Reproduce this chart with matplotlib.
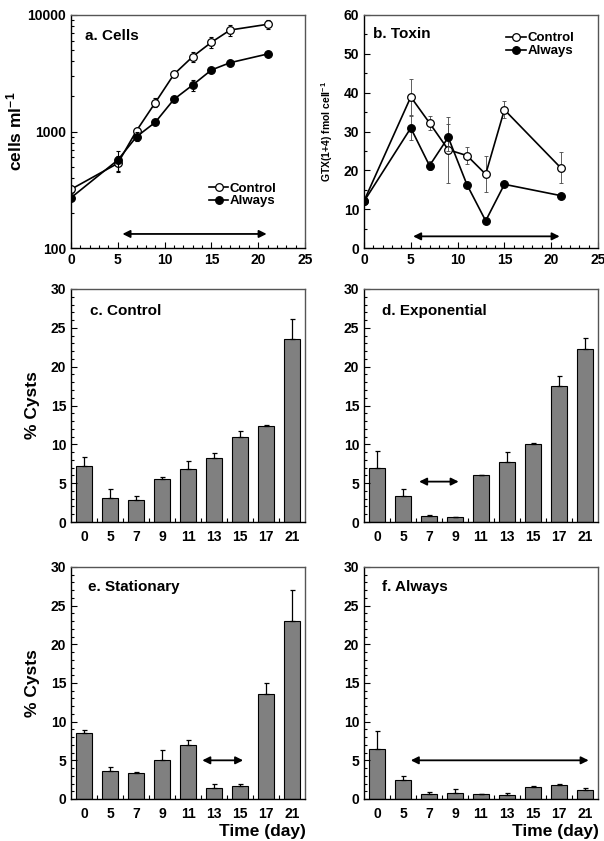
import numpy as np
import matplotlib
matplotlib.use("Agg")
import matplotlib.pyplot as plt
from matplotlib.ticker import MultipleLocator, FixedLocator, NullFormatter, LogLocator

plt.rcParams['font.family'] = ['Liberation Sans', 'DejaVu Sans']
plt.rcParams['font.weight'] = 'bold'
plt.rcParams['mathtext.fontset'] = 'custom'
plt.rcParams['mathtext.rm'] = 'Liberation Sans:bold'
plt.rcParams['mathtext.default'] = 'rm'

# panel a: cells ml-1
days = [0, 5, 7, 9, 11, 13, 15, 17, 21]
cells_control = [319, 533, 1016, 1767, 3097, 4390, 5830, 7430, 8320]
cells_control_err = [20, 80, 40, 160, 120, 450, 650, 800, 800]
cells_always = [270, 569, 902, 1199, 1889, 2506, 3373, 3896, 4627]
cells_always_err = [15, 110, 80, 50, 60, 280, 80, 80, 80]

# panel b: toxin (no sample on day 17)
tox_days = [0, 5, 7, 9, 11, 13, 15, 21]
tox_control = [12.1, 38.9, 32.2, 25.3, 23.8, 19.0, 35.6, 20.7]
tox_control_err = [0.3, 4.6, 1.7, 8.5, 2.1, 4.6, 2.2, 3.9]
tox_always = [12.0, 30.9, 21.2, 28.5, 16.3, 7.0, 16.4, 13.5]
tox_always_err = [0.3, 3.0, 1.2, 3.5, 0.3, 0.3, 0.3, 0.3]

# panels c-f: % cysts
cyst_labels = ['0', '5', '7', '9', '11', '13', '15', '17', '21']
cyst_control = [7.2, 3.1, 2.8, 5.5, 6.8, 8.2, 10.9, 12.3, 23.6]
cyst_control_err = [1.2, 1.1, 0.5, 0.3, 1.1, 0.7, 0.8, 0.2, 2.5]
cyst_expo = [7.0, 3.3, 0.8, 0.6, 6.0, 7.7, 10.0, 17.5, 22.3]
cyst_expo_err = [2.1, 0.95, 0.05, 0.1, 0.05, 1.25, 0.15, 1.3, 1.4]
cyst_stat = [8.5, 3.6, 3.4, 5.0, 7.0, 1.4, 1.7, 13.6, 23.0]
cyst_stat_err = [0.4, 0.6, 0.15, 1.35, 0.6, 0.5, 0.25, 1.4, 4.0]
cyst_always = [6.5, 2.5, 0.65, 0.8, 0.65, 0.55, 1.55, 1.85, 1.15]
cyst_always_err = [2.25, 0.45, 0.2, 0.5, 0.05, 0.18, 0.12, 0.08, 0.27]

W, H = 604, 841
fig = plt.figure(figsize=(W / 100, H / 100), dpi=100)


def add_ax(x0, x1, ytop, ybot):
    return fig.add_axes([x0 / W, (H - ybot) / H, (x1 - x0) / W, (ybot - ytop) / H])


def style(ax):
    for s in ['left', 'bottom']:
        ax.spines[s].set_color('k')
        ax.spines[s].set_linewidth(1.0)
    for s in ['top', 'right']:
        ax.spines[s].set_color('#555555')
        ax.spines[s].set_linewidth(1.0)
    ax.tick_params(which='both', direction='in', top=False, right=False, labelsize=10, width=0.8)
    ax.tick_params(which='major', length=4)
    ax.tick_params(which='minor', length=2)
    for lab in ax.get_xticklabels() + ax.get_yticklabels():
        lab.set_fontweight('bold')


def arrow(ax, x1, x2, y):
    ax.annotate('', xy=(x2, y), xytext=(x1, y),
                arrowprops=dict(arrowstyle='<|-|>', color='k', lw=1.3, mutation_scale=11,
                                shrinkA=0, shrinkB=0))


def series(ax, x, y, err, filled, label, ecolor='k', elw=0.8):
    ax.errorbar(x, y, yerr=err, fmt='none', ecolor=ecolor, capsize=1.5, elinewidth=elw, capthick=elw)
    ax.plot(x, y, color='k', lw=1.2, marker='o', ms=5.5, mfc='k' if filled else 'white',
            mec='k', mew=0.9, label=label)


# ---- a. Cells
ax = add_ax(71, 305, 15, 248)
series(ax, days, cells_control, cells_control_err, False, 'Control')
series(ax, days, cells_always, cells_always_err, True, 'Always')
ax.set_yscale('log')
ax.set_ylim(100, 10000)
ax.set_xlim(0, 25)
ax.set_yticks([100, 1000, 10000])
ax.set_yticklabels(['100', '1000', '10000'])
ax.yaxis.set_minor_locator(LogLocator(base=10, subs=np.arange(2, 10)))
ax.yaxis.set_minor_formatter(NullFormatter())
ax.xaxis.set_major_locator(MultipleLocator(5))
ax.xaxis.set_minor_locator(MultipleLocator(1))
ax.set_ylabel('cells ml$^{-1}$', fontsize=12.5, fontweight='bold', labelpad=2)
ax.text(0.06, 0.91, 'a. Cells', transform=ax.transAxes, fontsize=11, fontweight='bold', va='center')
arrow(ax, 5.5, 20.9, 132)
ax.legend(loc='upper left', bbox_to_anchor=(0.56, 0.31), frameon=False, handlelength=1.5,
          handletextpad=0.1, labelspacing=0.05, borderpad=0, prop={'weight': 'bold', 'size': 9.5})
style(ax)

# ---- b. Toxin
ax = add_ax(364, 598, 15, 248)
series(ax, tox_days, tox_control, tox_control_err, False, 'Control', ecolor='#444444', elw=0.6)
series(ax, tox_days, tox_always, tox_always_err, True, 'Always', ecolor='#444444', elw=0.6)
ax.set_ylim(0, 60)
ax.set_xlim(0, 25)
ax.yaxis.set_major_locator(MultipleLocator(10))
ax.yaxis.set_minor_locator(MultipleLocator(5))
ax.xaxis.set_major_locator(MultipleLocator(5))
ax.xaxis.set_minor_locator(MultipleLocator(1))
ax.set_ylabel('GTX(1+4) fmol cell$^{-1}$', fontsize=7.5, fontweight='bold', labelpad=6)
ax.text(0.037, 0.918, 'b. Toxin', transform=ax.transAxes, fontsize=11, fontweight='bold', va='center')
arrow(ax, 5.25, 20.9, 3)
ax.legend(loc='upper left', bbox_to_anchor=(0.58, 0.955), frameon=False, handlelength=1.5,
          handletextpad=0.1, labelspacing=0.05, borderpad=0, prop={'weight': 'bold', 'size': 9.5})
style(ax)


def bar_panel(ax, vals, errs, title, tx, ty, arr=None, ylabel=True, xlabel=False):
    x = np.arange(len(cyst_labels))
    ax.bar(x, vals, width=0.6, color='#808080', edgecolor='k', linewidth=0.8,
           yerr=[np.zeros(len(errs)), errs],
           error_kw=dict(capsize=1.8, elinewidth=0.9, capthick=0.9, ecolor='k'))
    ax.set_xlim(-0.5, 8.5)
    ax.set_ylim(0, 30)
    ax.set_xticks(x)
    ax.set_xticklabels(cyst_labels)
    ax.xaxis.set_minor_locator(FixedLocator(np.arange(0.5, 8, 1)))
    ax.yaxis.set_major_locator(MultipleLocator(5))
    ax.yaxis.set_minor_locator(MultipleLocator(1))
    style(ax)
    ax.tick_params(axis='x', which='major', length=0, pad=6)
    ax.tick_params(axis='x', which='minor', length=3)
    if ylabel:
        ax.set_ylabel('% Cysts', fontsize=12.5, fontweight='bold', labelpad=8)
    ax.text(tx, ty, title, transform=ax.transAxes, fontsize=11, fontweight='bold', va='center')
    if arr is not None:
        arrow(ax, *arr)
    if xlabel:
        ax.text(1.005, -0.142, 'Time (day)', transform=ax.transAxes, fontsize=12.5,
                fontweight='bold', ha='right', va='center')


ax = add_ax(71, 305, 289, 522)
bar_panel(ax, cyst_control, cyst_control_err, 'c. Control', 0.08, 0.907)
ax = add_ax(364, 598, 289, 522)
bar_panel(ax, cyst_expo, cyst_expo_err, 'd. Exponential', 0.075, 0.907, arr=(1.62, 3.14, 5.2),
          ylabel=False)
ax = add_ax(71, 305, 567, 799)
bar_panel(ax, cyst_stat, cyst_stat_err, 'e. Stationary', 0.074, 0.915, arr=(4.55, 6.12, 5.0),
          xlabel=True)
ax = add_ax(364, 598, 567, 799)
bar_panel(ax, cyst_always, cyst_always_err, 'f. Always', 0.075, 0.915, arr=(1.3, 8.14, 5.0),
          ylabel=False, xlabel=True)

fig.savefig('out.png', dpi=100)
